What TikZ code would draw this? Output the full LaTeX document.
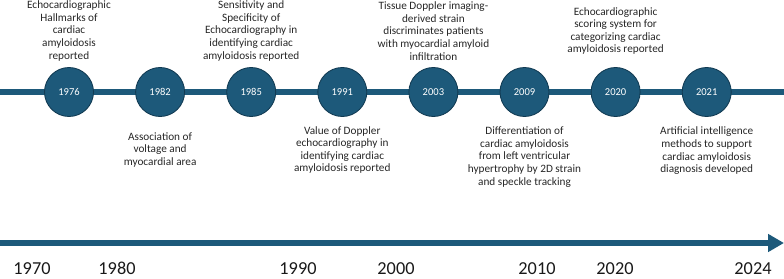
\documentclass[tikz,border=0pt]{standalone}
\usepackage{fontspec}
\setmainfont{Carlito}
\usetikzlibrary{arrows.meta,positioning}
\definecolor{tealblue}{RGB}{29,89,122}
\definecolor{tealdark}{RGB}{17,58,82}

\begin{document}
\begin{tikzpicture}[
  yr/.style={circle, draw=tealdark, line width=0.6pt, fill=tealblue, minimum size=1.225cm, inner sep=0pt, text=white, font=\fontsize{7.5}{8}\selectfont},
  note/.style={align=center, inner sep=0pt, text=black!85, font=\fontsize{8}{9}\selectfont},
  axis/.style={line width=0.13cm, draw=tealblue},
  tick/.style={inner sep=0pt, text=black!90, font=\fontsize{13}{15}\selectfont},
  on grid
]
\useasboundingbox (0,0) rectangle (19.6,6.95);

\coordinate (L) at (0,4.65);
\coordinate (R) at (19.6,4.65);
\draw[axis] (L) -- (R);

\node[yr] (y76) at (1.725,4.65) {1976};
\node[yr, right=2.2775cm of y76] (y82) {1982};
\node[yr, right=2.2775cm of y82] (y85) {1985};
\node[yr, right=2.2775cm of y85] (y91) {1991};
\node[yr, right=2.2775cm of y91] (y03) {2003};
\node[yr, right=2.2775cm of y03] (y09) {2009};
\node[yr, right=2.2775cm of y09] (y20) {2020};
\node[yr, right=2.2775cm of y20] (y21) {2021};

\node[note, above=1.525cm of y76] (n76) {Echocardiographic\\Hallmarks of\\cardiac\\amyloidosis\\reported};
\node[note, below=1.45cm of y82] (n82) {Association of\\voltage and\\myocardial area};
\node[note, above=1.525cm of y85] (n85) {Sensitivity and\\Specificity of\\Echocardiography in\\identifying cardiac\\amyloidosis reported};
\node[note, below=1.45cm of y91] (n91) {Value of Doppler\\echocardiography in\\identifying cardiac\\amyloidosis reported};
\node[note, above=1.525cm of y03] (n03) {Tissue Doppler imaging-\\derived strain\\discriminates patients\\with myocardial amyloid\\infiltration};
\node[note, below=1.625cm of y09] (n09) {Differentiation of\\cardiac amyloidosis\\from left ventricular\\hypertrophy by 2D strain\\and speckle tracking};
\node[note, above=1.525cm of y20] (n20) {Echocardiographic\\scoring system for\\categorizing cardiac\\amyloidosis reported};
\node[note, below=1.475cm of y21] (n21) {Artificial intelligence\\methods to support\\cardiac amyloidosis\\diagnosis developed};

\coordinate (A) at (0,0.875);
\coordinate (B) at (19.6,0.875);
\draw[axis, -{Triangle[length=0.4cm, width=0.43cm]}] (A) -- (B);

\node[tick] (t1970) at (0.8,0.23) {1970};
\node[tick] (t1980) at (2.925,0.23) {1980};
\node[tick] (t1990) at (7.45,0.23) {1990};
\node[tick] (t2000) at (9.9,0.23) {2000};
\node[tick] (t2010) at (13.425,0.23) {2010};
\node[tick] (t2020) at (15.375,0.23) {2020};
\node[tick] (t2024) at (18.825,0.23) {2024};

\end{tikzpicture}
\end{document}
